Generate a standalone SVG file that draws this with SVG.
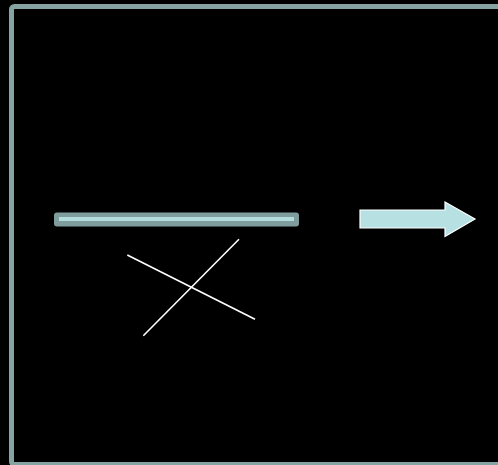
<svg xmlns="http://www.w3.org/2000/svg" width="498" height="465" viewBox="0 0 498 465">
<style>
.frame{fill:none;stroke:#86a3a3;stroke-width:5}
.cross{stroke:#ffffff;stroke-width:1.6;fill:none}
</style>
<rect x="0" y="0" width="498" height="465" fill="#000"/>
<rect class="frame" x="11.5" y="6.5" width="500" height="458" rx="3"/>
<g id="bar">
<rect x="54" y="212.5" width="245" height="14" rx="3" fill="#809d9d"/>
<rect x="59" y="217" width="235" height="4" fill="#b3dcdc"/>
</g>
<g id="arrow">
<polygon points="360,210 445,210 445,202 475,219 445,236.5 445,228 360,228" fill="#b6e0e1" stroke="#ffffff" stroke-width="1.2"/>
</g>
<g id="connectors">
<line class="cross" x1="127.3" y1="255" x2="255" y2="319.3"/>
<line class="cross" x1="239" y1="239.3" x2="143.3" y2="335.7"/>
</g>
</svg>
